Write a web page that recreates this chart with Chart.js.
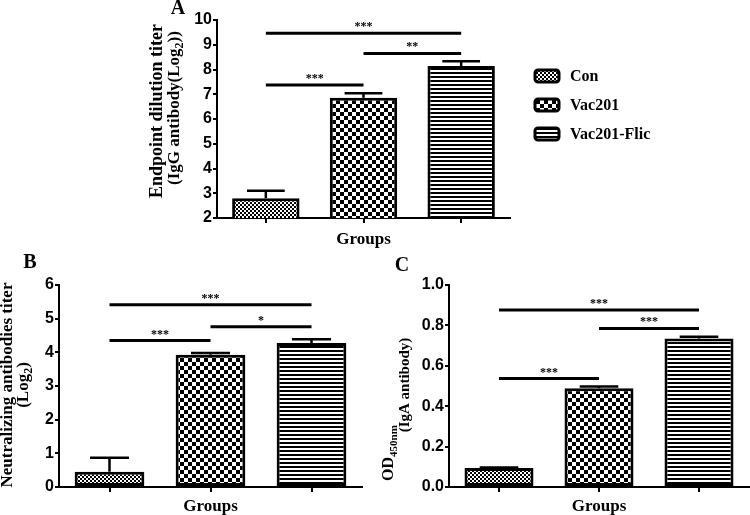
<!DOCTYPE html>
<html>
<head>
<meta charset="utf-8">
<script src="https://cdn.jsdelivr.net/npm/chart.js@4.4.0/dist/chart.umd.min.js"></script>
<style>
  html, body { margin: 0; padding: 0; background: #fff; }
  body { width: 750px; height: 515px; position: relative; overflow: hidden; }
  .panel { position: absolute; }
</style>
</head>
<body>
<div class="panel" style="left:140px;top:0px;width:560px;height:250px"><canvas id="chartA"></canvas></div>
<div class="panel" style="left:0px;top:250px;width:370px;height:265px"><canvas id="chartB"></canvas></div>
<div class="panel" style="left:380px;top:250px;width:370px;height:265px"><canvas id="chartC"></canvas></div>
<script>
// datos
const groups = ['Con', 'Vac201', 'Vac201-Flic'];

const iggMean = [2.8, 6.86, 8.14];
const iggErr = [0.3, 0.18, 0.19];
const iggTicks = [2, 10, 1];            // min, max, paso
const iggSig = [[0, 2, 9.46, '***'], [1, 2, 8.65, '**'], [0, 1, 7.37, '***']];

const neutMean = [0.45, 3.93, 4.28];
const neutErr = [0.42, 0.05, 0.11];
const neutTicks = [0, 6, 1];
const neutSig = [[0, 2, 5.41, '***'], [1, 2, 4.76, '*'], [0, 1, 4.35, '***']];

const igaMean = [0.094, 0.489, 0.735];
const igaErr = [0.002, 0.008, 0.009];
const igaTicks = [0, 1, 0.2];
const igaSig = [[0, 2, 0.876, '***'], [1, 2, 0.785, '***'], [0, 1, 0.537, '***']];

const SERIF = '"Liberation Serif", "Times New Roman", serif';
const SANS = '"Liberation Sans", Arial, sans-serif';

// patrones de relleno
function makePattern(kind) {
    const c = document.createElement('canvas');
    const g = c.getContext('2d');
    if (kind === 'fine') {
        c.width = 4; c.height = 4;
        g.fillStyle = '#fff'; g.fillRect(0, 0, 4, 4);
        g.fillStyle = '#000';
        g.fillRect(0, 0, 2, 2); g.fillRect(2, 2, 2, 2);
    } else if (kind === 'check') {
        c.width = 8; c.height = 8;
        g.fillStyle = '#fff'; g.fillRect(0, 0, 8, 8);
        g.fillStyle = '#000';
        g.fillRect(0, 0, 4, 4); g.fillRect(4, 4, 4, 4);
    } else {
        c.width = 4; c.height = 4;
        g.fillStyle = '#fff'; g.fillRect(0, 0, 4, 4);
        g.fillStyle = '#000';
        g.fillRect(0, 0, 4, 2);
    }
    return g.createPattern(c, 'repeat');
}
const patterns = [makePattern('fine'), makePattern('check'), makePattern('lines')];

// texto con subindices
function drawRich(ctx, parts, size, x, y) {
    const main = 'bold ' + size + 'px ' + SERIF;
    const small = 'bold ' + Math.round(size * 0.7) + 'px ' + SERIF;
    let total = 0;
    parts.forEach(p => { ctx.font = p.sub ? small : main; total += ctx.measureText(p.t).width; });
    let cx = x - total / 2;
    parts.forEach(p => {
        ctx.font = p.sub ? small : main;
        ctx.fillText(p.t, cx, p.sub ? y + size * 0.3 : y);
        cx += ctx.measureText(p.t).width;
    });
}

const extrasPlugin = {
    id: 'extras',
    afterDatasetsDraw(chart, args, opts) {
        const { ctx } = chart;
        const meta = chart.getDatasetMeta(0);
        const y = chart.scales.y;
        const data = chart.data.datasets[0].data;
        ctx.save();
        ctx.strokeStyle = '#000';
        ctx.lineWidth = 2.5;
        opts.err.forEach((e, i) => {
            const bar = meta.data[i];
            const top = y.getPixelForValue(data[i] + e);
            const half = bar.width * 0.28;
            ctx.beginPath();
            ctx.moveTo(bar.x, bar.y);
            ctx.lineTo(bar.x, top);
            ctx.moveTo(bar.x - half, top);
            ctx.lineTo(bar.x + half, top);
            ctx.stroke();
        });
        // lineas de significancia
        ctx.lineWidth = 3;
        ctx.fillStyle = '#000';
        ctx.font = 'bold 12px ' + SERIF;
        ctx.textAlign = 'center';
        ctx.textBaseline = 'alphabetic';
        opts.sig.forEach(s => {
            const x1 = meta.data[s[0]].x;
            const x2 = meta.data[s[1]].x;
            const py = y.getPixelForValue(s[2]);
            ctx.beginPath();
            ctx.moveTo(x1, py);
            ctx.lineTo(x2, py);
            ctx.stroke();
            ctx.fillText(s[3], (x1 + x2) / 2, py - 3);
        });
        ctx.restore();
    },
    afterDraw(chart, args, opts) {
        const { ctx, chartArea } = chart;
        ctx.save();
        ctx.fillStyle = '#000';
        ctx.textBaseline = 'middle';
        ctx.textAlign = 'left';
        // titulo eje y
        opts.yTitle.forEach(line => {
            ctx.save();
            ctx.translate(line.x, line.y);
            ctx.rotate(-Math.PI / 2);
            drawRich(ctx, line.parts, line.size, 0, 0);
            ctx.restore();
        });
        ctx.textAlign = 'center';
        ctx.font = 'bold 17px ' + SERIF;
        ctx.fillText('Groups', (chartArea.left + chartArea.right) / 2, opts.groupsY);
        ctx.font = 'bold 20px ' + SERIF;
        ctx.fillText(opts.letter[0], opts.letter[1], opts.letter[2]);

        if (opts.legend) {
            ctx.textAlign = 'left';
            ctx.font = 'bold 16px ' + SERIF;
            const L = opts.legend;
            groups.forEach((g, i) => {
                const cy = L.y[i];
                ctx.fillStyle = patterns[i];
                ctx.beginPath();
                ctx.roundRect(L.x, cy - 6, 24, 12, 3);
                ctx.fill();
                ctx.lineWidth = 3;
                ctx.strokeStyle = '#000';
                ctx.stroke();
                ctx.fillStyle = '#000';
                ctx.fillText(g, L.x + 35, cy + 1);
            });
        }
        ctx.restore();
    }
};

function makeChart(id, mean, err, ticks, sig, layout, extras) {
    return new Chart(document.getElementById(id), {
        type: 'bar',
        data: {
            labels: groups,
            datasets: [{
                data: mean,
                backgroundColor: patterns,
                borderColor: '#000',
                borderWidth: 3,
                borderSkipped: false,
                barPercentage: 0.69,
                categoryPercentage: 1
            }]
        },
        options: {
            responsive: true,
            maintainAspectRatio: false,
            animation: false,
            layout: { padding: layout.pad },
            plugins: {
                legend: { display: false },
                tooltip: { enabled: false },
                extras: Object.assign({ err: err, sig: sig }, extras)
            },
            scales: {
                x: {
                    afterFit: s => { s.height = layout.xh; },
                    grid: { offset: false, drawOnChartArea: false, color: '#000', lineWidth: 2, tickLength: 5 },
                    border: { color: '#000', width: 2 },
                    ticks: { display: false }
                },
                y: {
                    min: ticks[0],
                    max: ticks[1],
                    afterFit: s => { s.width = layout.yw; },
                    grid: { drawOnChartArea: false, color: '#000', lineWidth: 2, tickLength: 4 },
                    border: { color: '#000', width: 2 },
                    ticks: {
                        stepSize: ticks[2],
                        color: '#000',
                        padding: 1,
                        font: { family: SANS, weight: 'bold', size: 16 },
                        callback: v => ticks[2] < 1 ? v.toFixed(1) : v
                    }
                }
            }
        },
        plugins: [extrasPlugin]
    });
}

makeChart('chartA', iggMean, iggErr, iggTicks, iggSig,
    { pad: { left: 47, right: 190, top: 20, bottom: 0 }, yw: 30, xh: 32 },
    {
        yTitle: [
            { x: 17, y: 111, size: 18, parts: [{ t: 'Endpoint dilution titer' }] },
            { x: 35, y: 108, size: 17, parts: [{ t: '(IgG antibody(Log' }, { t: '2', sub: true }, { t: '))' }] }
        ],
        groupsY: 240,
        letter: ['A', 38, 9]
    ,
        legend: { x: 395, y: [76, 105, 134] }
    });

makeChart('chartB', neutMean, neutErr, neutTicks, neutSig,
    { pad: { left: 29, right: 8, top: 35, bottom: 0 }, yw: 30, xh: 28 },
    {
        yTitle: [
            { x: 8, y: 135, size: 17, parts: [{ t: 'Neutralizing antibodies titer' }] },
            { x: 24, y: 135, size: 17, parts: [{ t: '(Log' }, { t: '2', sub: true }, { t: ')' }] }
        ],
        groupsY: 257,
        letter: ['B', 30, 13]
    });

makeChart('chartC', igaMean, igaErr, igaTicks, igaSig,
    { pad: { left: 31, right: 1, top: 35, bottom: 0 }, yw: 38, xh: 28 },
    {
        yTitle: [
            { x: 9, y: 203, size: 16, parts: [{ t: 'OD' }, { t: '450nm', sub: true }] },
            { x: 25, y: 135, size: 15, parts: [{ t: '(IgA antibody)' }] }
        ],
        groupsY: 257,
        letter: ['C', 22, 16]
    });
</script>
</body>
</html>
